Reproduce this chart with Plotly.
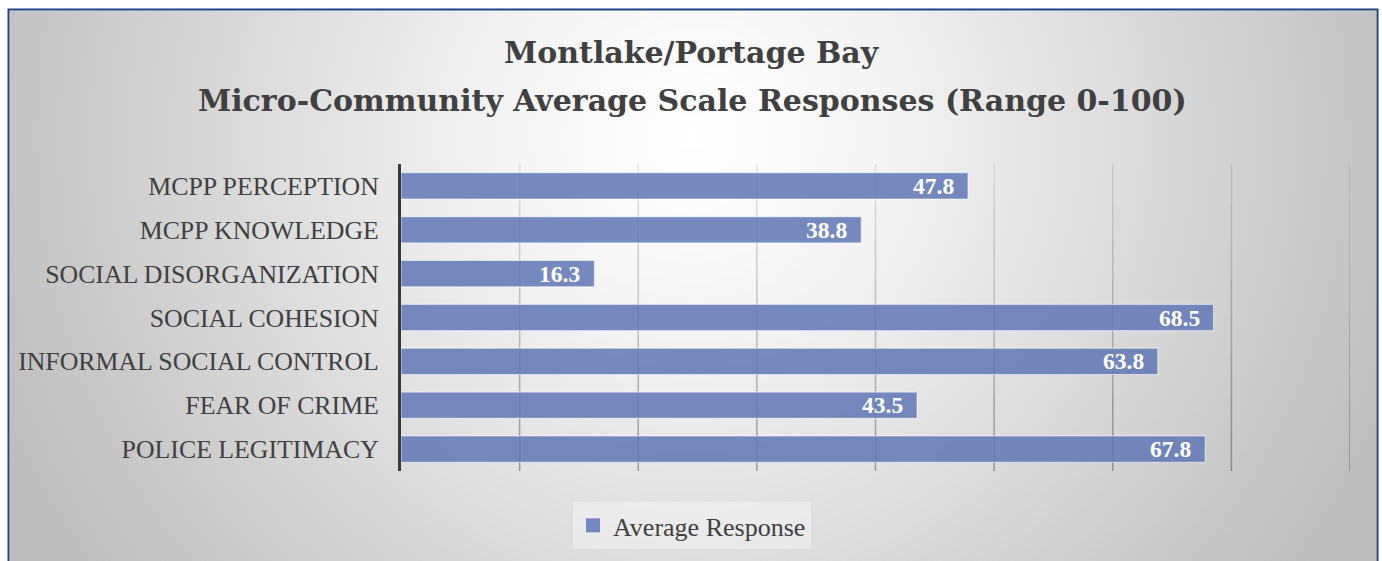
import base64
import plotly.graph_objects as go

# ---- data ----
categories = [
    "MCPP PERCEPTION",
    "MCPP KNOWLEDGE",
    "SOCIAL DISORGANIZATION",
    "SOCIAL COHESION",
    "INFORMAL SOCIAL CONTROL",
    "FEAR OF CRIME",
    "POLICE LEGITIMACY",
]
values = [47.8, 38.8, 16.3, 68.5, 63.8, 43.5, 67.8]
series_name = "Average Response"
title_line1 = "Montlake/Portage Bay"
title_line2 = "Micro-Community Average Scale Responses (Range 0-100)"
axis_max = 80
grid_step = 10

# ---- layout geometry ----
FW, FH = 1382, 561
L, R, T, B = 401, 32, 164, 90
PW, PH = FW - L - R, FH - T - B


def px(x):
    return (x - L) / PW


def py(y):
    return 1 - (y - T) / PH


svg = f'''<svg xmlns="http://www.w3.org/2000/svg" width="{FW}" height="{FH}" viewBox="0 0 {FW} {FH}" preserveAspectRatio="none">
<defs><radialGradient id="g" cx="690" cy="130" r="760" gradientUnits="userSpaceOnUse">
<stop offset="0" stop-color="#ffffff"/><stop offset="0.25" stop-color="#f4f4f4"/>
<stop offset="1" stop-color="#bdbdbd"/></radialGradient></defs>
<rect width="{FW}" height="{FH}" fill="url(#g)"/></svg>'''
src = "data:image/svg+xml;base64," + base64.b64encode(svg.encode()).decode()

font_serif = "Liberation Serif, Times New Roman, serif"
font_title = "DejaVu Serif, serif"
bar_color = "rgba(100,122,182,0.88)"

fig = go.Figure()
fig.add_trace(go.Bar(
    y=categories,
    x=values,
    orientation="h",
    name=series_name,
    marker=dict(color=bar_color, line=dict(color="rgba(255,255,255,0.55)", width=1.2)),
    showlegend=False,
))
# legend proxy with a larger square symbol
fig.add_trace(go.Scatter(
    x=[None], y=[None], mode="markers", name=series_name,
    marker=dict(symbol="square", size=15, color=bar_color,
                line=dict(color="rgba(255,255,255,0.7)", width=1)),
    showlegend=True,
))

# value labels inside bar ends
for c, v in zip(categories, values):
    fig.add_annotation(
        x=v, y=c, xref="x", yref="y", text=f"<b>{v:.1f}</b>",
        showarrow=False, xanchor="right", yanchor="middle", xshift=-12,
        font=dict(family=font_serif, size=23.5, color="white"),
    )

# gridlines, darkening toward the bottom
nseg = 8
for gx in range(grid_step, axis_max + 1, grid_step):
    for k in range(nseg):
        a = 0.12 + 0.45 * (k + 0.5) / nseg
        fig.add_shape(type="line", xref="x", yref="paper", x0=gx, x1=gx,
                      y0=1 - k / nseg, y1=1 - (k + 1) / nseg,
                      line=dict(color=f"rgba(90,90,90,{a:.3f})", width=1.5), layer="below")

# titles
fig.add_annotation(x=px(692), y=py(52), xref="paper", yref="paper", text=f"<b>{title_line1}</b>",
                   showarrow=False, xanchor="center", yanchor="middle",
                   font=dict(family=font_title, size=30, color="#404040"))
fig.add_annotation(x=px(692), y=py(101), xref="paper", yref="paper", text=f"<b>{title_line2}</b>",
                   showarrow=False, xanchor="center", yanchor="middle",
                   font=dict(family=font_title, size=30, color="#404040"))

# border
fig.add_shape(type="rect", xref="paper", yref="paper",
              x0=px(8.5), x1=px(1377.5), y0=py(9.5), y1=py(FH + 5),
              line=dict(color="#24407a", width=2), fillcolor="rgba(0,0,0,0)", layer="above")

fig.update_layout(
    width=FW, height=FH,
    margin=dict(l=L, r=R, t=T, b=B, pad=0),
    paper_bgcolor="white",
    plot_bgcolor="rgba(0,0,0,0)",
    bargap=0.4,
    images=[dict(source=src, xref="paper", yref="paper",
                 x=px(9.5), y=py(10.5), sizex=(1376.5 - 9.5) / PW, sizey=(FH - 10.5) / PH,
                 xanchor="left", yanchor="top", sizing="stretch", layer="below")],
    xaxis=dict(range=[0, axis_max], dtick=grid_step, showticklabels=False, showgrid=False,
               zeroline=False, showline=False, ticks=""),
    yaxis=dict(categoryorder="array", categoryarray=categories[::-1],
               showline=True, linecolor="#3a3a3a", linewidth=3, ticks="",
               ticklabelstandoff=14, showgrid=False,
               tickfont=dict(family=font_serif, size=25.8, color="#404040")),
    legend=dict(orientation="h", x=px(692), xanchor="center", y=py(502), yanchor="top",
                bgcolor="rgba(255,255,255,0.35)", borderwidth=0,
                font=dict(family=font_serif, size=26, color="#404040"),
                itemsizing="trace"),
    font=dict(family=font_serif),
)

fig.write_html("out.html", config={"displayModeBar": False},
               post_script="document.body.style.margin='0';document.body.style.overflow='hidden';")
